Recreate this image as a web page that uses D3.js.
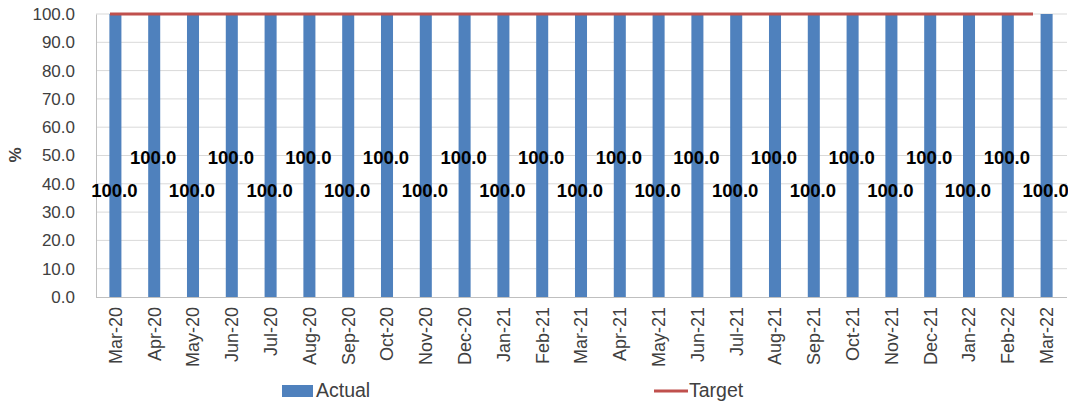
<!DOCTYPE html>
<html>
<head>
<meta charset="utf-8">
<script src="https://cdn.jsdelivr.net/npm/d3@7/dist/d3.min.js"></script>
<style>
  html, body { margin: 0; padding: 0; background: #fff; }
  svg { display: block; font-family: "Liberation Sans", Arial, sans-serif; }
</style>
</head>
<body>
<svg id="chart" width="1068" height="403"></svg>
<script>
// Monthly categories
const months = ["Mar-20","Apr-20","May-20","Jun-20","Jul-20","Aug-20","Sep-20","Oct-20",
  "Nov-20","Dec-20","Jan-21","Feb-21","Mar-21","Apr-21","May-21","Jun-21","Jul-21",
  "Aug-21","Sep-21","Oct-21","Nov-21","Dec-21","Jan-22","Feb-22","Mar-22"];

// Series values (%)
const actual = [100,100,100,100,100,100,100,100,100,100,100,100,100,100,100,100,100,100,100,100,100,100,100,100,100];
const target = [100,100,100,100,100,100,100,100,100,100,100,100,100,100,100,100,100,100,100,100,100,100,100,100,100];

// Y axis ticks
const yTicks = [0,10,20,30,40,50,60,70,80,90,100];

const svg = d3.select("#chart");
const plot = { left: 96, right: 1066, top: 14, bottom: 297 };

const x = d3.scaleBand().domain(months).range([plot.left, plot.right]).padding(0);
const y = d3.scaleLinear().domain([0, 100]).range([plot.bottom, plot.top]);
const xLine = d3.scalePoint().domain(months).range([plot.left + 14, plot.right - 33]);

// Gridlines
svg.append("g").selectAll("line").data(yTicks.filter(d => d > 0)).join("line")
  .attr("x1", plot.left).attr("x2", 1067)
  .attr("y1", d => y(d)).attr("y2", d => y(d))
  .attr("stroke", "#D9D9D9").attr("stroke-width", 1);

// Y axis
const yAxis = svg.append("g").attr("transform", `translate(${plot.left},0)`)
  .call(d3.axisLeft(y).tickValues(yTicks).tickFormat(d3.format(".1f")).tickSize(0).tickPadding(21));
yAxis.select(".domain").attr("stroke", "#BFBFBF");
yAxis.selectAll("text").attr("font-size", 17).attr("fill", "#404040")
  .attr("font-family", "'Liberation Sans', Arial, sans-serif");

// Bars
const barW = x.bandwidth() * 0.31;
svg.append("g").selectAll("rect").data(actual).join("rect")
  .attr("x", (d, i) => x(months[i]) + x.bandwidth() / 2 - barW / 2)
  .attr("y", d => y(d))
  .attr("width", barW)
  .attr("height", d => y(0) - y(d))
  .attr("fill", "#4F81BD");

// X axis
const xAxis = svg.append("g").attr("transform", `translate(0,${plot.bottom})`)
  .call(d3.axisBottom(x).tickSize(0).tickPadding(0));
xAxis.select(".domain").attr("stroke", "#BFBFBF").attr("d", `M${plot.left},0.5H1067`);
xAxis.selectAll("text")
  .attr("font-size", 18).attr("fill", "#404040")
  .attr("font-family", "'Liberation Sans', Arial, sans-serif")
  .attr("text-anchor", "end")
  .attr("transform", "rotate(-90)")
  .attr("x", -10).attr("y", 0).attr("dy", "0.35em");

// Target line
svg.append("path").datum(target)
  .attr("fill", "none").attr("stroke", "#C0504D").attr("stroke-width", 3.2)
  .attr("d", d3.line().x((d, i) => xLine(months[i])).y(d => y(d)));

// Data labels, staggered in two rows
svg.append("g").selectAll("text").data(actual).join("text")
  .attr("x", (d, i) => x(months[i]) + x.bandwidth() / 2 - 1)
  .attr("y", (d, i) => y(i % 2 === 0 ? 37.6 : 49.4))
  .attr("dy", "0.36em")
  .attr("text-anchor", "middle")
  .attr("font-size", 18.5).attr("font-weight", "bold").attr("fill", "#000")
  .text(d => d3.format(".1f")(d));

// Y axis title
svg.append("text")
  .attr("transform", "translate(21,155) rotate(-90)")
  .attr("text-anchor", "middle")
  .attr("font-size", 17).attr("font-weight", "bold").attr("fill", "#404040")
  .text("%");

// Legend
const legend = svg.append("g");
legend.append("rect").attr("x", 282).attr("y", 385).attr("width", 31).attr("height", 12).attr("fill", "#4F81BD");
legend.append("text").attr("x", 316).attr("y", 397).attr("font-size", 19.5).attr("fill", "#404040").text("Actual");
legend.append("line").attr("x1", 654).attr("x2", 688).attr("y1", 391).attr("y2", 391)
  .attr("stroke", "#C0504D").attr("stroke-width", 3.2);
legend.append("text").attr("x", 689).attr("y", 397).attr("font-size", 19.5).attr("fill", "#404040").text("Target");
</script>
</body>
</html>
